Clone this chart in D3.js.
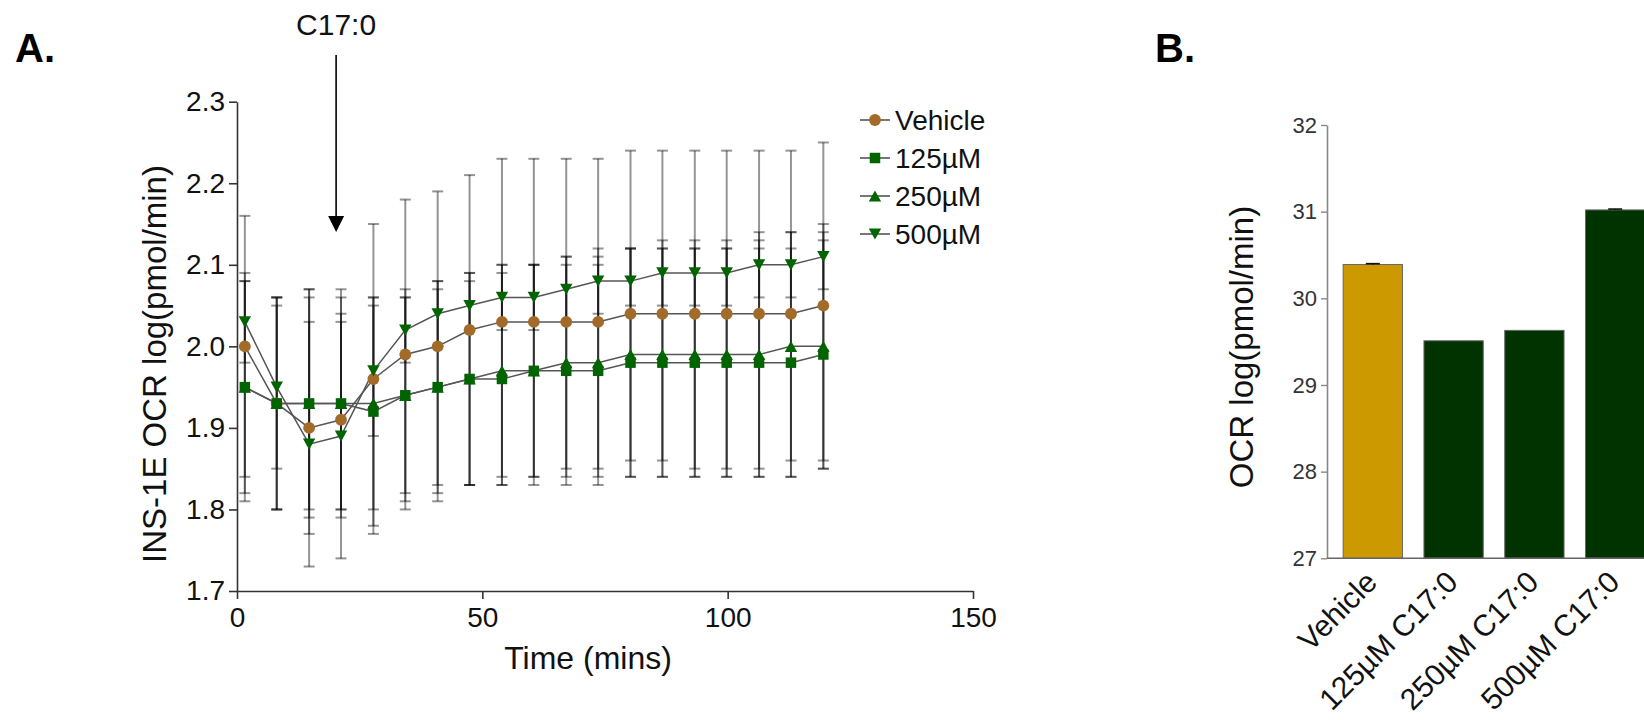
<!DOCTYPE html>
<html>
<head>
<meta charset="utf-8">
<script src="https://cdn.jsdelivr.net/npm/d3@7"></script>
<style>
  html, body { margin: 0; padding: 0; background: #fff; }
  svg { display: block; font-family: "Liberation Sans", Arial, Helvetica, sans-serif; }
</style>
</head>
<body>
<svg id="fig" width="1644" height="720"></svg>
<script>
// ---- Panel A: INS-1E oxygen consumption over time ----
const times = [1.6, 8.1, 14.7, 21.2, 27.8, 34.3, 40.9, 47.4, 54.0, 60.5, 67.1, 73.6, 80.2, 86.7, 93.3, 99.8, 106.4, 112.9, 119.5];

const vehicleMean = [2.00, 1.93, 1.90, 1.91, 1.96, 1.99, 2.00, 2.02, 2.03, 2.03, 2.03, 2.03, 2.04, 2.04, 2.04, 2.04, 2.04, 2.04, 2.05];
const vehicleHi   = [2.16, 2.06, 2.07, 2.07, 2.15, 2.18, 2.19, 2.21, 2.23, 2.23, 2.23, 2.23, 2.24, 2.24, 2.24, 2.24, 2.24, 2.24, 2.25];
const vehicleLo   = [1.84, 1.80, 1.73, 1.74, 1.77, 1.80, 1.81, 1.83, 1.83, 1.83, 1.83, 1.83, 1.84, 1.84, 1.84, 1.84, 1.84, 1.84, 1.85];

const c125Mean = [1.95, 1.93, 1.93, 1.93, 1.92, 1.94, 1.95, 1.96, 1.96, 1.97, 1.97, 1.97, 1.98, 1.98, 1.98, 1.98, 1.98, 1.98, 1.99];
const c125Hi   = [2.09, 2.06, 2.06, 2.06, 2.06, 2.07, 2.08, 2.09, 2.09, 2.10, 2.10, 2.10, 2.12, 2.12, 2.12, 2.12, 2.12, 2.12, 2.13];
const c125Lo   = [1.81, 1.80, 1.80, 1.80, 1.78, 1.81, 1.82, 1.83, 1.83, 1.84, 1.84, 1.84, 1.84, 1.84, 1.84, 1.84, 1.84, 1.84, 1.85];

const c250Mean = [1.95, 1.93, 1.93, 1.93, 1.93, 1.94, 1.95, 1.96, 1.97, 1.97, 1.98, 1.98, 1.99, 1.99, 1.99, 1.99, 1.99, 2.00, 2.00];
const c250Hi   = [2.08, 2.06, 2.07, 2.04, 2.06, 2.06, 2.07, 2.09, 2.10, 2.10, 2.11, 2.11, 2.12, 2.12, 2.12, 2.12, 2.13, 2.14, 2.14];
const c250Lo   = [1.82, 1.80, 1.79, 1.79, 1.80, 1.82, 1.83, 1.83, 1.84, 1.84, 1.85, 1.85, 1.86, 1.86, 1.85, 1.85, 1.85, 1.86, 1.86];

const c500Mean = [2.03, 1.95, 1.88, 1.89, 1.97, 2.02, 2.04, 2.05, 2.06, 2.06, 2.07, 2.08, 2.08, 2.09, 2.09, 2.09, 2.10, 2.10, 2.11];
const c500Hi   = [2.08, 2.05, 2.03, 2.03, 2.05, 2.06, 2.08, 2.08, 2.10, 2.10, 2.11, 2.12, 2.12, 2.13, 2.13, 2.13, 2.14, 2.14, 2.15];
const c500Lo   = [1.98, 1.85, 1.77, 1.80, 1.89, 1.98, 2.00, 2.02, 2.02, 2.02, 2.03, 2.04, 2.05, 2.05, 2.05, 2.05, 2.06, 2.06, 2.07];

const seriesNames = ["Vehicle", "125\u00B5M", "250\u00B5M", "500\u00B5M"];
const xTicksA = [0, 50, 100, 150];
const yTicksA = [1.7, 1.8, 1.9, 2.0, 2.1, 2.2, 2.3];
const treatmentTime = 20.2;
const treatmentLabel = "C17:0";

// ---- Panel B: mean OCR per treatment ----
const barCategories = ["Vehicle", "125\u00B5M C17:0", "250\u00B5M C17:0", "500\u00B5M C17:0"];
const barValues = [30.39, 29.51, 29.63, 31.02];
const barErrors = [0.01, 0, 0, 0.01];
const yTicksB = [27, 28, 29, 30, 31, 32];

// ---------------------------------------------------------------
const svg = d3.select("#fig");
const FONT = "\"Liberation Sans\", Arial, Helvetica, sans-serif";

const series = [
  { name: seriesNames[0], mean: vehicleMean, hi: vehicleHi, lo: vehicleLo, color: "#A36B2A", shape: "circle" },
  { name: seriesNames[1], mean: c125Mean, hi: c125Hi, lo: c125Lo, color: "#006400", shape: "square" },
  { name: seriesNames[2], mean: c250Mean, hi: c250Hi, lo: c250Lo, color: "#006400", shape: "triangleUp" },
  { name: seriesNames[3], mean: c500Mean, hi: c500Hi, lo: c500Lo, color: "#006400", shape: "triangleDown" }
];

const xA = d3.scaleLinear().domain([0, 150]).range([237, 973]);
const yA = d3.scaleLinear().domain([1.7, 2.3]).range([591, 101.7]);

function markerPath(shape) {
  if (shape === "circle") return d3.symbol(d3.symbolCircle, 110)();
  if (shape === "square") return d3.symbol(d3.symbolSquare, 110)();
  // triangles pointing up / down
  const w = 6.2, h = 5.6;
  if (shape === "triangleUp") return `M0,${-h}L${w},${h}L${-w},${h}Z`;
  return `M0,${h}L${w},${-h}L${-w},${-h}Z`;
}

const gA = svg.append("g").attr("class", "panel-a");

// error bars (semi-transparent so overlapping bars read darker)
const errG = gA.append("g").attr("class", "error-bars");
series.forEach(s => {
  times.forEach((t, i) => {
    const x = xA(t);
    const g = errG.append("g")
      .attr("stroke", "#000").attr("stroke-opacity", 0.42).attr("stroke-width", 2);
    g.append("line").attr("x1", x).attr("x2", x).attr("y1", yA(s.hi[i])).attr("y2", yA(s.lo[i]));
    g.append("line").attr("x1", x - 5.5).attr("x2", x + 5.5).attr("y1", yA(s.hi[i])).attr("y2", yA(s.hi[i]));
    g.append("line").attr("x1", x - 5.5).attr("x2", x + 5.5).attr("y1", yA(s.lo[i])).attr("y2", yA(s.lo[i]));
  });
});

// connecting lines
const line = d3.line().x((d, i) => xA(times[i])).y(d => yA(d));
series.forEach(s => {
  gA.append("path").attr("d", line(s.mean))
    .attr("fill", "none").attr("stroke", "#555").attr("stroke-width", 1.5);
});

// markers
series.forEach(s => {
  gA.append("g").selectAll("path").data(s.mean).join("path")
    .attr("transform", (d, i) => `translate(${xA(times[i])},${yA(d)})`)
    .attr("d", markerPath(s.shape))
    .attr("fill", s.color);
});

// axes
const yAxisA = d3.axisLeft(yA).tickValues(yTicksA).tickFormat(d3.format(".1f"))
  .tickSize(8).tickSizeOuter(0).tickPadding(4);
const xAxisA = d3.axisBottom(xA).tickValues(xTicksA).tickFormat(d3.format("d"))
  .tickSize(8).tickSizeOuter(0).tickPadding(8);

const gyA = gA.append("g").attr("transform", `translate(${xA(0)},0)`).call(yAxisA);
const gxA = gA.append("g").attr("transform", `translate(0,${yA(1.7)})`).call(xAxisA);
[gyA, gxA].forEach(g => {
  g.select(".domain").attr("stroke", "#333").attr("stroke-width", 1.6);
  g.selectAll(".tick line").attr("stroke", "#333").attr("stroke-width", 1.6);
  g.selectAll(".tick text").attr("fill", "#111").style("font-size", "28px").style("font-family", FONT);
});

gA.append("text")
  .attr("transform", "translate(166,364) rotate(-90)")
  .attr("text-anchor", "middle")
  .style("font-size", "33px").attr("fill", "#111")
  .text("INS-1E OCR log(pmol/min)");

gA.append("text")
  .attr("x", 588).attr("y", 669)
  .attr("text-anchor", "middle")
  .style("font-size", "32px").attr("fill", "#111")
  .text("Time (mins)");

// treatment arrow
const ax = xA(treatmentTime);
gA.append("line").attr("x1", ax).attr("x2", ax).attr("y1", 55).attr("y2", 218)
  .attr("stroke", "#000").attr("stroke-width", 1.6);
gA.append("path").attr("d", `M${ax - 8},216L${ax + 8},216L${ax},232Z`).attr("fill", "#000");
gA.append("text").attr("x", ax).attr("y", 35).attr("text-anchor", "middle")
  .style("font-size", "30px").attr("fill", "#111").text(treatmentLabel);

// legend
const legA = gA.append("g").attr("transform", "translate(860,0)");
const legY = [120, 158, 196, 234];
series.forEach((s, i) => {
  const row = legA.append("g").attr("transform", `translate(0,${legY[i]})`);
  row.append("line").attr("x1", 0).attr("x2", 30).attr("y1", 0).attr("y2", 0)
    .attr("stroke", "#777").attr("stroke-width", 2);
  row.append("path").attr("transform", "translate(15,0)").attr("d", markerPath(s.shape)).attr("fill", s.color);
  row.append("text").attr("x", 35).attr("y", 0).attr("dy", "0.35em")
    .style("font-size", "28px").attr("fill", "#111").text(s.name);
});

// panel letters
svg.append("text").attr("x", 15).attr("y", 62).style("font-size", "40px").style("font-weight", "bold")
  .attr("fill", "#000").text("A.");
svg.append("text").attr("x", 1155).attr("y", 62).style("font-size", "40px").style("font-weight", "bold")
  .attr("fill", "#000").text("B.");

// ---- Panel B ----
const gB = svg.append("g").attr("class", "panel-b");
const xB = d3.scaleBand().domain(barCategories).range([1327, 1661]).paddingInner(0.266).paddingOuter(0.2);
const yB = d3.scaleLinear().domain([27, 32]).range([558.3, 125]);

gB.selectAll("rect.bar").data(barValues).join("rect")
  .attr("class", "bar")
  .attr("x", (d, i) => xB(barCategories[i]))
  .attr("width", xB.bandwidth())
  .attr("y", d => yB(d))
  .attr("height", d => yB(27) - yB(d))
  .attr("fill", (d, i) => i === 0 ? "#CC9900" : "#003300")
  .attr("stroke", "#666").attr("stroke-width", 1);

// error caps on bars (only where the error is non-zero)
gB.selectAll("g.err").data(barValues).join("g").attr("class", "err")
  .each(function (d, i) {
    if (!(barErrors[i] > 0)) return;
    const cx = xB(barCategories[i]) + xB.bandwidth() / 2;
    const g = d3.select(this).attr("stroke", "#111").attr("stroke-width", 1.6);
    g.append("line").attr("x1", cx).attr("x2", cx).attr("y1", yB(d + barErrors[i])).attr("y2", yB(d));
    g.append("line").attr("x1", cx - 7).attr("x2", cx + 7)
      .attr("y1", yB(d + barErrors[i])).attr("y2", yB(d + barErrors[i]));
  });

const yAxisB = d3.axisLeft(yB).tickValues(yTicksB).tickFormat(d3.format("d"))
  .tickSize(6).tickSizeOuter(0).tickPadding(4);
const gyB = gB.append("g").attr("transform", "translate(1327,0)").call(yAxisB);
gyB.select(".domain").attr("stroke", "#888").attr("stroke-width", 1.6);
gyB.selectAll(".tick line").attr("stroke", "#888").attr("stroke-width", 1.4);
gyB.selectAll(".tick text").attr("fill", "#333").style("font-size", "22px").style("font-family", FONT);

gB.append("line").attr("x1", 1327).attr("x2", 1661).attr("y1", yB(27)).attr("y2", yB(27))
  .attr("stroke", "#666").attr("stroke-width", 1.4);

gB.selectAll("text.xlab").data(barCategories).join("text")
  .attr("class", "xlab")
  .attr("transform", d => `translate(${xB(d) + xB.bandwidth() / 2 + 6},584) rotate(-45)`)
  .attr("text-anchor", "end")
  .style("font-size", "30px").attr("fill", "#111")
  .text(d => d);

gB.append("text")
  .attr("transform", "translate(1253,347) rotate(-90)")
  .attr("text-anchor", "middle")
  .style("font-size", "33px").attr("fill", "#111")
  .text("OCR log(pmol/min)");
</script>
</body>
</html>
